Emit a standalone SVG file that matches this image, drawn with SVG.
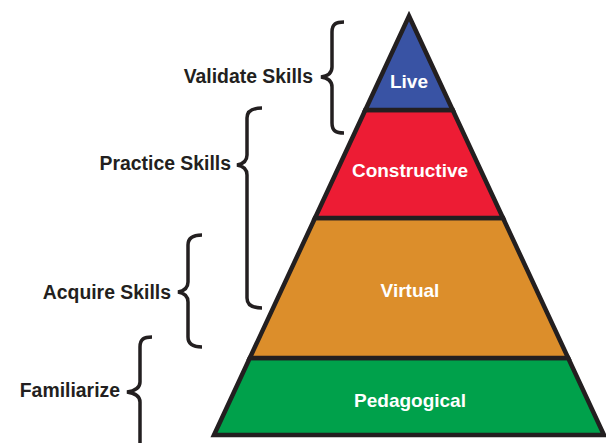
<svg xmlns="http://www.w3.org/2000/svg" width="606" height="443" viewBox="0 0 606 443">
<style>
.layer{stroke:#231f20;stroke-width:4.5;stroke-linejoin:miter}
.lbl{font-family:"Liberation Sans",Arial,sans-serif;font-weight:bold;font-size:19px;fill:#ffffff;text-anchor:middle}
.side{font-family:"Liberation Sans",Arial,sans-serif;font-weight:bold;font-size:19.4px;fill:#231f20;text-anchor:end}
.brace{fill:none;stroke:#231f20;stroke-width:3.5;stroke-linecap:butt}
</style>
<rect width="606" height="443" fill="#ffffff"/>
<g id="node-pedagogical">
<polygon class="layer" fill="#00a14b" points="249.8,358 568.2,358 604,435 214,435"/>
<text class="lbl" x="410" y="407">Pedagogical</text>
</g>
<g id="node-virtual">
<polygon class="layer" fill="#dc8e2b" points="315,218 503,218 568.2,358 249.8,358"/>
<text class="lbl" x="410" y="297">Virtual</text>
</g>
<g id="node-constructive">
<polygon class="layer" fill="#ed1c34" points="365.3,110 452.7,110 503,218 315,218"/>
<text class="lbl" x="410" y="177">Constructive</text>
</g>
<g id="node-live">
<polygon class="layer" fill="#3953a4" points="409,16 452.7,110 365.3,110"/>
<text class="lbl" x="409" y="88">Live</text>
</g>
<g id="connectors">
<path class="brace" d="M344,22 C336,22 332,24 332,32 L332,67 C332,73 328,76 321,77 C328,78 332,81 332,87 L332,123 C332,131 336,133 344,133"/>
<path class="brace" d="M262,108 C254,108 247,110 247,118 L247,155 C247,161 243,164 237,165 C243,166 247,169 247,175 L247,298 C247,306 254,308 262,308"/>
<path class="brace" d="M202,235 C194,235 188,237 188,245 L188,282 C188,288 184,291 178,292 C184,293 188,296 188,302 L188,337 C188,345 194,347 202,347"/>
<path class="brace" d="M152,337 C144,337 140,339 140,347 L140,382 C140,388 134,391 127,392 C134,393 140,396 140,402 L140,445"/>
</g>
<g id="labels">
<text class="side" x="313" y="83">Validate Skills</text>
<text class="side" x="231" y="170">Practice Skills</text>
<text class="side" x="171" y="299">Acquire Skills</text>
<text class="side" x="120" y="397">Familiarize</text>
</g>
</svg>
